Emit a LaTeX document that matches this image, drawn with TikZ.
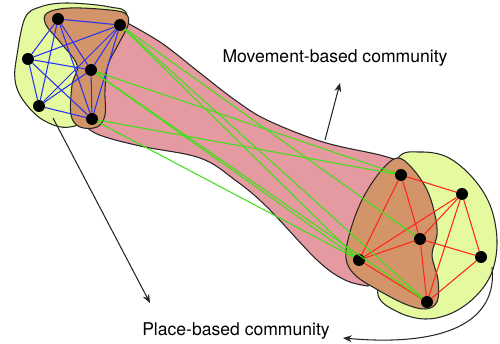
\documentclass[tikz,border=0pt]{standalone}
\usepackage{fontspec}
\setmainfont{TeX Gyre Heros}
\usetikzlibrary{arrows.meta}
\definecolor{jaune}{rgb}{0.90,0.98,0.62}
\definecolor{rose}{rgb}{0.90,0.60,0.63}
\definecolor{brun}{rgb}{0.83,0.58,0.41}
\definecolor{bleu}{rgb}{0.15,0.20,0.95}
\definecolor{vert}{rgb}{0.25,0.88,0.10}
\definecolor{rouge}{rgb}{1.00,0.15,0.10}
\begin{document}
\begin{tikzpicture}[x=0.02cm, y=-0.02cm,
    point/.style={circle, fill=black, inner sep=0pt, minimum size=0.24cm},
    bord/.style={draw=black!85, line width=0.6pt},
    lien/.style={line width=0.6pt},
    fleche/.style={-{Stealth[length=5pt, width=4pt]}, line width=0.6pt, black!85}]
      \useasboundingbox (0,0) rectangle (500,344);

      % Communaute de lieu (gauche)
      \filldraw[bord, fill=jaune] plot[smooth cycle, tension=0.6] coordinates
        {(25,18) (40,7) (67,3) (110,7) (127,16) (120,60) (100,110) (70,127) (43,120) (23,100) (15,80) (17,55)};

      % Tube de mouvement
      \filldraw[bord, fill=rose] plot[smooth, tension=0.6] coordinates
        {(118,18) (160,42) (200,73) (235,100) (267,120) (323,142) (380,155) (405,163)}
        -- (390,230) --
        plot[smooth, tension=0.6] coordinates
        {(368,286) (345,280) (317,260) (267,207) (235,180) (200,158) (140,146) (97,134) (80,120)}
        -- (90,60) -- cycle;

      % Communaute de lieu (droite)
      \filldraw[bord, fill=jaune] plot[smooth cycle, tension=0.6] coordinates
        {(398,158) (420,152) (447,157) (472,177) (490,205) (497,240) (492,272) (476,296) (452,313) (425,319) (398,312) (378,295) (385,260) (385,200)};

      % Zones internes
      \filldraw[bord, fill=brun] plot[smooth cycle, tension=0.6] coordinates
        {(47,13) (70,8) (110,10) (126,14) (128,25) (118,45) (108,65) (105,90) (105,115) (97,127) (80,127) (71,115) (72,85) (77,65) (60,42) (46,25)};
      \filldraw[bord, fill=brun] plot[smooth cycle, tension=0.6] coordinates
        {(397,158) (412,168) (427,190) (435,215) (437,235) (432,255) (438,280) (437,302) (425,309) (405,304) (378,290) (355,275) (346,258) (350,232) (362,200) (380,172)};

      % Sommets
      \node[point] (a1) at (58,19) {};
      \node[point] (a2) at (120,25) {};
      \node[point] (a3) at (28,59) {};
      \node[point] (a4) at (91,70) {};
      \node[point] (a5) at (39,106) {};
      \node[point] (a6) at (92,119) {};
      \node[point] (b1) at (401,175) {};
      \node[point] (b2) at (462,194) {};
      \node[point] (b3) at (420,239) {};
      \node[point] (b4) at (359,260) {};
      \node[point] (b5) at (481,257) {};
      \node[point] (b6) at (427,302) {};

      % Aretes
      \foreach \i/\j in {a1/a2,a1/a3,a1/a4,a1/a5,a1/a6,a2/a3,a2/a4,a2/a5,a2/a6,a3/a4,a3/a5,a3/a6,a4/a5,a4/a6,a5/a6}
        \draw[lien, bleu] (\i) -- (\j);
      \foreach \i/\j in {b1/b2,b1/b3,b1/b4,b2/b3,b2/b4,b2/b5,b2/b6,b3/b4,b3/b5,b3/b6,b4/b6,b5/b6}
        \draw[lien, rouge] (\i) -- (\j);
      \foreach \i/\j in {a2/b3,a2/b4,a2/b6,a4/b1,a4/b4,a4/b6,a6/b1,a6/b4}
        \draw[lien, vert] (\i) -- (\j);

      % Legendes
      \node (mouv) at (335,58) {Movement-based community};
      \node (lieu) at (236,331) {Place-based community};
      \coordinate (m0) at (325,140);
      \coordinate (m1) at (340,83);
      \coordinate (p0) at (53,118);
      \coordinate (p1) at (150,303);
      \coordinate (q0) at (492,267);
      \coordinate (q1) at (343,338);
      \draw[fleche] (m0) -- (m1);
      \draw[fleche] (p0) -- (p1);
      \draw[fleche] (q0) .. controls (498,322) and (445,347) .. (q1);
    \end{tikzpicture}
\end{document}
